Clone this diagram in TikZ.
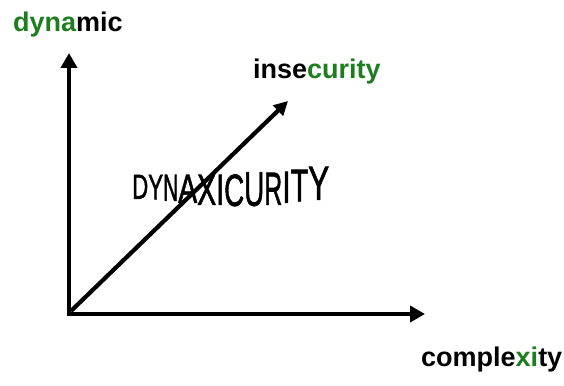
\documentclass[tikz,border=0pt]{standalone}
\usepackage{fontspec}
\usepackage{graphicx}
\setmainfont{Liberation Sans}
\newfontfamily\wordfont{Liberation Sans}[FakeBold=1.6]
\usetikzlibrary{arrows.meta}
\definecolor{lblgreen}{RGB}{30,125,30}
\tikzset{
  axis/.style={line width=4.6pt,-{Triangle[length=15pt,width=16pt]}},
  diag/.style={line width=4.2pt,-{Triangle[length=14pt,width=14pt]}},
  lbl/.style={inner sep=0pt,anchor=base west,font=\fontsize{27}{31}\selectfont\bfseries},
  wl/.style={inner sep=0pt,anchor=south west,font=\wordfont}
}
\newcommand{\wlet}[6]{\node[wl] (#1) at (#2,#5) {\resizebox{\dimexpr #3pt-#2pt\relax}{\dimexpr #5pt-#4pt\relax}{#6}};}
\begin{document}
\begin{tikzpicture}[x=1pt,y=-1pt]
\useasboundingbox (0,0) rectangle (564,385);
\coordinate (o) at (69,314);
\coordinate (ytip) at (69,53);
\coordinate (xtip) at (425,314);
\coordinate (dstart) at (71,311);
\coordinate (dtip) at (288,101);
\draw[axis] ([yshift=2.3pt]o) -- (ytip);
\draw[axis] ([xshift=-2.3pt]o) -- (xtip);
\draw[diag] (dstart) -- (dtip);
\node[lbl] (dyn) at (13,32) {\textcolor{lblgreen}{dyna}mic};
\node[lbl] (ins) at (253,79) {inse\textcolor{lblgreen}{curity}};
\node[lbl] (cpx) at (421,366) {comple\textcolor{lblgreen}{xi}ty};
\wlet{l1}{132}{148}{175}{199}{D}
\wlet{l2}{148}{163}{175}{199.5}{Y}
\wlet{l3}{163}{178}{175}{201}{N}
\wlet{l4}{178}{197}{175}{203}{A}
\wlet{l5}{197}{216}{175}{205}{X}
\wlet{l6}{216}{224}{175}{205}{I}
\wlet{l7}{224}{244}{175}{206.5}{C}
\wlet{l8}{244}{264}{173}{206.5}{U}
\wlet{l9}{264}{282}{173}{205}{R}
\wlet{l10}{282}{290.5}{172}{203}{I}
\wlet{l11}{290.5}{308}{170}{201.5}{T}
\wlet{l12}{308}{329}{167}{200}{Y}
\end{tikzpicture}
\end{document}
